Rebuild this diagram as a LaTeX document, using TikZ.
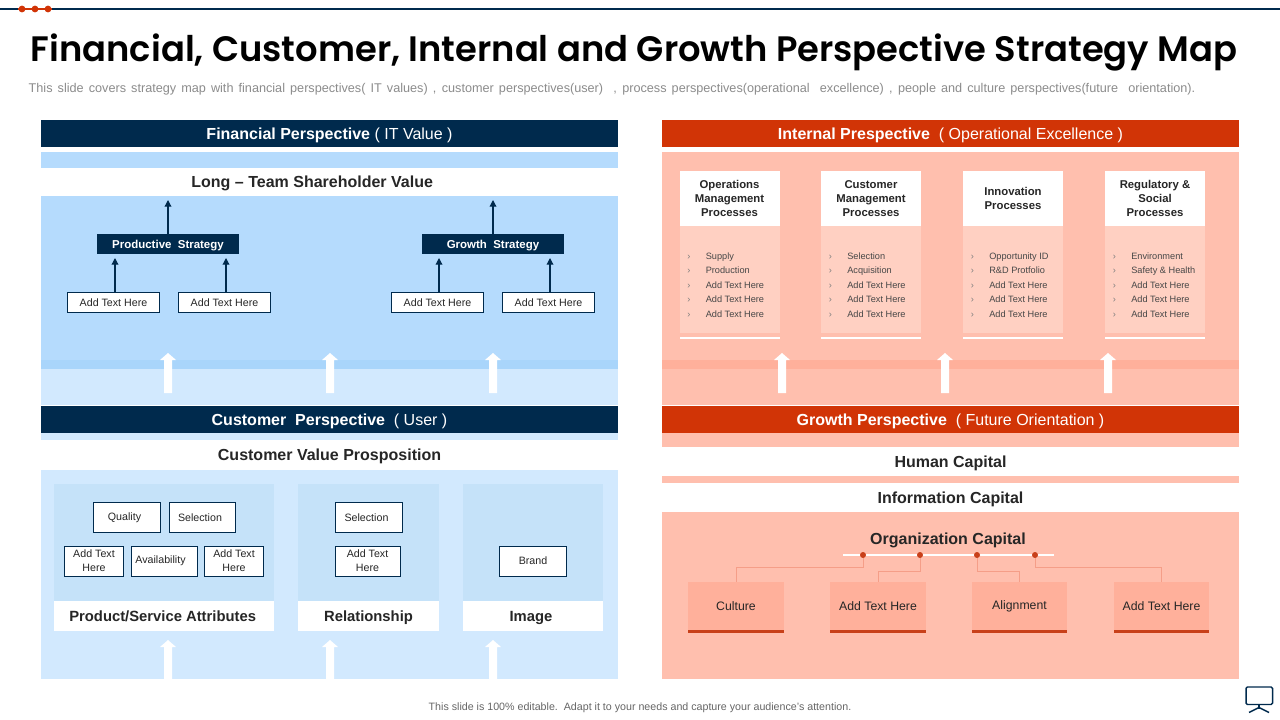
\documentclass[tikz,border=0pt]{standalone}
\usepackage{fontspec}
\setmainfont{Liberation Sans}
\newfontfamily\titlefont{Poppins SemiBold}
\usetikzlibrary{arrows.meta}
\definecolor{navy}{HTML}{002A4D}
\definecolor{redhead}{HTML}{D13406}
\definecolor{blueA}{HTML}{B5DBFD}
\definecolor{blueB}{HTML}{A9D5FB}
\definecolor{blueC}{HTML}{D2E9FE}
\definecolor{blueD}{HTML}{C5E2F9}
\definecolor{salA}{HTML}{FFBFAE}
\definecolor{salB}{HTML}{FFB09B}
\definecolor{salC}{HTML}{FFD0C2}
\definecolor{redline}{HTML}{C8401A}
\definecolor{linkc}{HTML}{F59E88}
\definecolor{inkc}{HTML}{262626}
\tikzset{
  size/.style 2 args={minimum width=#1*0.75pt, minimum height=#2*0.75pt, inner sep=0pt},
  head/.style={fill=#1, text=white, text height=8.6pt, text depth=0pt, font=\fontsize{12}{14}\selectfont},
  band/.style={fill=white, text=inkc, text height=8.6pt, text depth=0pt, font=\fontsize{12}{14}\selectfont\bfseries},
  bandsm/.style={band, font=\fontsize{11.1}{13}\selectfont\bfseries, text height=8pt},
  addbox/.style={draw=navy, line width=0.75pt, fill=white, text=inkc, align=center, font=\fontsize{8}{10.5}\selectfont},
  stratbox/.style={fill=navy, text=white, text height=6.2pt, text depth=0pt, font=\fontsize{8.6}{10}\selectfont\bfseries},
  cardhead/.style={fill=white, text=inkc, align=center, font=\fontsize{8.5}{10.5}\selectfont\bfseries},
  cardtext/.style={text=inkc!85, anchor=base west, inner sep=0pt, font=\fontsize{6.9}{8}\selectfont},
  orgbox/.style={fill=salB, text=inkc, font=\fontsize{9.2}{11}\selectfont},
  navyarrow/.style={navy, line width=0.9pt, -{Triangle[width=5pt,length=5pt]}},
  linkline/.style={draw=linkc, line width=0.75pt},
  dot/.style={circle, fill=redline, draw=none, minimum size=4.5pt, inner sep=0pt}
}
% white block arrow: x, top, bottom
\newcommand{\blockarrow}[3]{\fill[white] (#1-4,#3) -- (#1-4,#2+7) -- (#1-8,#2+7) -- (#1,#2) -- (#1+8,#2+7) -- (#1+4,#2+7) -- (#1+4,#3) -- cycle;}
\begin{document}
\begin{tikzpicture}[x=0.75pt,y=-0.75pt]
  \useasboundingbox (0,0) rectangle (1280,720);
  \fill[white] (0,0) rectangle (1280,720);
  % top rule
  \draw[navy, line width=1.5pt] (0,9) -- (18,9);
  \draw[navy, line width=1.5pt] (52,9) -- (1280,9);
  \draw[redhead, line width=1.1pt] (18,9) -- (52,9);
  \foreach \x in {22,35,48} \fill[redhead] (\x,9) circle [radius=3.4];
  % title
  \node (title) at (634,52) {\titlefont\fontsize{26.5}{32}\selectfont Financial, Customer, Internal and Growth Perspective Strategy Map};
  \node[text=black!45, font=\fontsize{9.5}{11}\selectfont] (subtitle) at (612,89.5) {\makebox[875pt][s]{This slide covers strategy map with financial perspectives( IT values) , customer perspectives(user)\ \ , process perspectives(operational\ \ excellence) , people and culture perspectives(future\ \ orientation).}};
  % left panels
  \fill[blueA] (41,152) rectangle (618,168);
  \fill[blueA] (41,196) rectangle (618,360);
  \fill[blueB] (41,360) rectangle (618,369);
  \fill[blueC] (41,369) rectangle (618,405);
  \fill[blueC] (41,433) rectangle (618,440);
  \fill[blueC] (41,469) rectangle (618,679);
  \node[head=navy, size={577}{27}] (finhead) at (329.5,133.5) {\textbf{Financial Perspective} ( IT Value )};
  \node[band, size={577}{28}] (longteam) at (329.5,182) {\hspace{-26pt}Long – Team Shareholder Value};
  \node[head=navy, size={577}{27}] (custhead) at (329.5,419.5) {\textbf{Customer\ \ Perspective}\ \ ( User )};
  \node[band, size={577}{29}] (custvalue) at (329.5,455) {Customer Value Prosposition};
  % strategies
  \node[stratbox, size={142}{20}] (prodstrat) at (168,244) {Productive\ \ Strategy};
  \node[stratbox, size={142}{20}] (growstrat) at (493,244) {Growth\ \ Strategy};
  \coordinate (prodtop) at (168,200);
  \coordinate (growtop) at (493,200);
  \draw[navyarrow] (prodstrat.north) -- (prodtop);
  \draw[navyarrow] (growstrat.north) -- (growtop);
  \node[addbox, size={92}{20}] (adda) at (113.5,302.5) {Add Text Here};
  \node[addbox, size={92}{20}] (addb) at (224.5,302.5) {Add Text Here};
  \node[addbox, size={92}{20}] (addc) at (437.5,302.5) {Add Text Here};
  \node[addbox, size={92}{20}] (addd) at (548.5,302.5) {Add Text Here};
  \coordinate (tipa) at (115,258);
  \coordinate (tipb) at (226,258);
  \coordinate (tipc) at (439,258);
  \coordinate (tipd) at (550,258);
  \draw[navyarrow] (adda.north -| tipa) -- (tipa);
  \draw[navyarrow] (addb.north -| tipb) -- (tipb);
  \draw[navyarrow] (addc.north -| tipc) -- (tipc);
  \draw[navyarrow] (addd.north -| tipd) -- (tipd);
  \foreach \x in {168,330,493} {\blockarrow{\x}{353}{393}}
  % customer columns
  \fill[blueD] (54,484) rectangle (274,601);
  \fill[blueD] (298,484) rectangle (439,601);
  \fill[blueD] (463,484) rectangle (603,601);
  \node[bandsm, size={220}{30}] (attrs) at (164,616) {\hspace{-2pt}Product/Service Attributes};
  \node[bandsm, size={141}{30}] (relation) at (368.5,616) {Relationship};
  \node[bandsm, size={140}{30}] (image) at (533,616) {\hspace{-3pt}Image};
  \node[addbox, size={67}{30}] (quality) at (126.5,517.5) {\hspace{-3pt}Quality};
  \node[addbox, size={66}{30}] (selecta) at (202,517.5) {\hspace{-3pt}Selection};
  \node[addbox, size={59}{30}] (addte) at (94,561) {Add Text\\Here};
  \node[addbox, size={66}{30}] (avail) at (164.5,561) {\hspace{-6pt}Availability};
  \node[addbox, size={59}{30}] (addtf) at (234,561) {Add Text\\Here};
  \node[addbox, size={67}{30}] (selectb) at (368.5,517.5) {\hspace{-3pt}Selection};
  \node[addbox, size={65}{30}] (addtg) at (367.5,561) {Add Text\\Here};
  \node[addbox, size={67}{30}] (brand) at (533,561) {Brand};
  \foreach \x in {168,330,493} {\blockarrow{\x}{640}{679}}
  % right panels
  \fill[salA] (662,152) rectangle (1239,360);
  \fill[salB] (662,360) rectangle (1239,369);
  \fill[salA] (662,369) rectangle (1239,405);
  \fill[salA] (662,433) rectangle (1239,447);
  \fill[salA] (662,476) rectangle (1239,483);
  \fill[salA] (662,512) rectangle (1239,679);
  \node[head=redhead, size={577}{27}] (inthead) at (950.5,133.5) {\textbf{Internal Prespective}\ \ ( Operational Excellence\ )};
  \node[head=redhead, size={577}{27}] (growhead) at (950.5,419.5) {\textbf{Growth Perspective}\ \ ( Future Orientation )};
  \node[band, size={577}{29}] (human) at (950.5,461.5) {Human Capital};
  \node[band, size={577}{29}] (info) at (950.5,497.5) {Information Capital};
  % process cards
  \foreach \cx/\nm/\hd/\ia/\ib in {
    729.5/opsc/{Operations\\Management\\Processes}/Supply/Production,
    871/cusc/{Customer\\Management\\Processes}/Selection/Acquisition,
    1013/innc/{Innovation\\Processes}/Opportunity ID/R\&D Protfolio,
    1155/regc/{Regulatory \&\\Social\\Processes}/Environment/Safety \& Health} {
    \fill[salC] (\cx-50,226) rectangle (\cx+50,333);
    \fill[white] (\cx-50,337) rectangle (\cx+50,339);
    \node[cardhead, size={100}{55}] (\nm) at (\cx,198.5) {\hd};
    \foreach \yy/\tx in {259/\ia,273/\ib,288/Add Text Here,302/Add Text Here,317/Add Text Here} {
      \node[cardtext, text=inkc!60] at (\cx-42.5,\yy) {›};
      \node[cardtext] at (\cx-24,\yy) {\tx};
    }
  }
  \foreach \x in {782,945,1108} {\blockarrow{\x}{353}{393}}
  % organization capital
  \node[text=inkc, text height=8.6pt, text depth=0pt, font=\fontsize{12}{14}\selectfont\bfseries] (orgcap) at (948,539) {Organization Capital};
  \draw[white, line width=1.5pt] (843,555) -- (1054,555);
  \node[orgbox, size={96}{48}] (culture) at (736,606) {Culture};
  \node[orgbox, size={96}{48}] (addh) at (878,606) {Add Text Here};
  \node[orgbox, size={95}{48}] (align) at (1019.5,606) {Alignment};
  \node[orgbox, size={95}{48}] (addi) at (1161.5,606) {Add Text Here};
  \foreach \bx in {culture,addh,align,addi}
    \fill[redline] (\bx.south west) rectangle ([yshift=-2pt]\bx.south east);
  \node[dot] (dota) at (863,555) {};
  \node[dot] (dotb) at (920,555) {};
  \node[dot] (dotc) at (977,555) {};
  \node[dot] (dotd) at (1035,555) {};
  \draw[linkline] (dota) -- (863,567) -| (culture.north);
  \draw[linkline] (dotb) -- (920,571) -| (addh.north);
  \draw[linkline] (dotc) -- (977,571) -| (align.north);
  \draw[linkline] (dotd) -- (1035,567) -| (addi.north);
  % footer
  \node[text=black!60, font=\fontsize{8}{10}\selectfont] (footer) at (640,708) {This slide is 100\% editable.\ \ Adapt it to your needs and capture your audience’s attention.};
  % screen icon
  \draw[navy, line width=1.1pt, rounded corners=1pt, fill=white] (1246,687) rectangle (1272.5,704.5);
  \draw[navy, line width=1.1pt] (1259,704.5) -- (1259,709);
  \draw[navy, line width=1.1pt] (1249,712.5) -- (1259,707.5) -- (1269,712.5);
\end{tikzpicture}
\end{document}
